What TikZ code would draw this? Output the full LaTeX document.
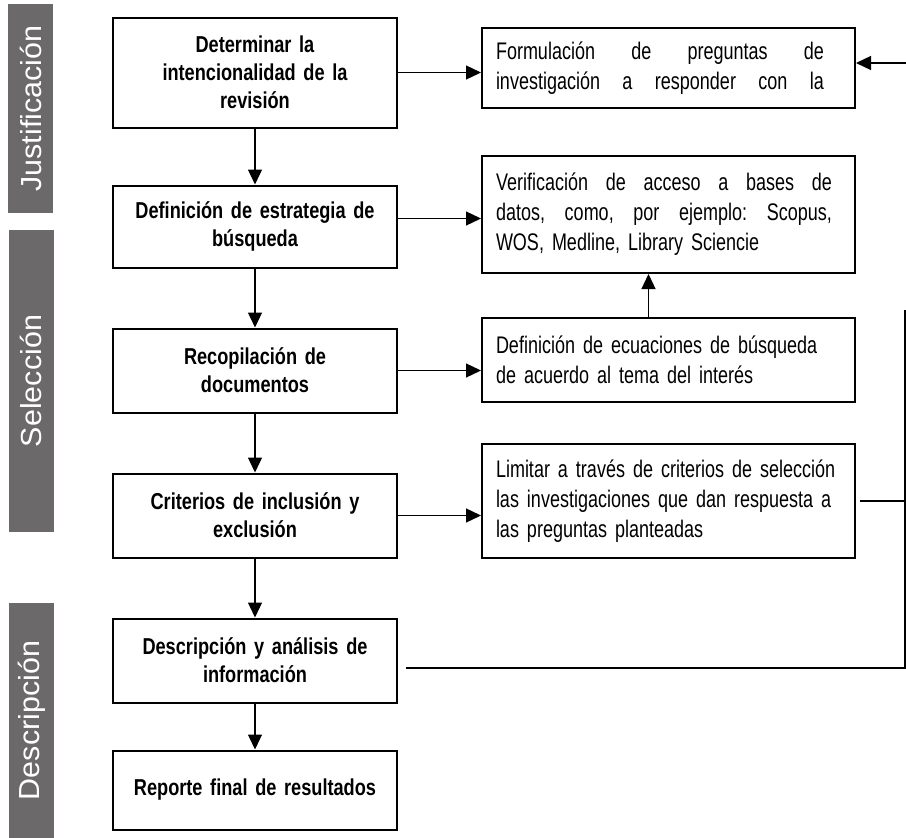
\documentclass[tikz,border=0pt]{standalone}
\usepackage{fontspec}
\setmainfont{Liberation Sans}
\newfontfamily\pasofont[FakeStretch=0.79]{Liberation Sans}
\newfontfamily\notafont[FakeStretch=0.75]{Liberation Sans}
\newfontfamily\fasefont[FakeStretch=1.05]{Liberation Sans}
\usetikzlibrary{arrows.meta}
\usetikzlibrary{positioning}

\begin{document}
\begin{tikzpicture}[x=1pt,y=-1pt,
  paso/.style={draw,line width=2pt,align=center,text width=276pt,minimum width=284pt,inner sep=0pt,font=\pasofont\bfseries\fontsize{23}{28}\selectfont},
  nota/.style={draw,line width=2pt,align=left,text width=345pt,minimum width=373pt,inner sep=0pt,font=\notafont\fontsize{24}{30}\selectfont},
  fase/.style={fill=fasecolor,text=white,rotate=90,minimum height=45pt,inner sep=0pt,font=\fasefont\fontsize{29}{30}\selectfont},
  flecha/.style={-{Triangle[width=14pt,length=15pt]},line width=1.3pt},
  linea/.style={line width=1.3pt}]

		    \definecolor{fasecolor}{RGB}{107,105,105}
		    \useasboundingbox[fill=white] (0,0) rectangle (906,838);

		    % fases
		    \node (fase1) [fase,minimum width=209pt] at (30.5,108.5) {Justificación};
		    \node (fase2) [fase,minimum width=302pt] at (31,381) {Selección};
		    \node (fase3) [fase,minimum width=235pt] at (31.5,720.5) {Descripción};

		    % pasos
		    \node (paso1) [paso,minimum height=110pt] at (255,72.5) {Determinar la\\intencionalidad de la\\revisión};
		    \node (paso2) [paso,minimum height=82pt,below=56pt of paso1] {Definición de estrategia de\\búsqueda};
		    \node (paso3) [paso,minimum height=84pt,below=59pt of paso2] {Recopilación de\\documentos};
		    \node (paso4) [paso,minimum height=84pt,below=59pt of paso3] {Criterios de inclusión y\\exclusión};
		    \node (paso5) [paso,minimum height=84pt,below=59pt of paso4] {Descripción y análisis de\\información};
		    \node (paso6) [paso,minimum height=79pt,below=46pt of paso5] {Reporte final de resultados\\[6pt]};

		    % notas
		    \node (nota1) [nota,minimum height=80pt] at (668.5,68) {\makebox[328pt][l]{Formulación\hfill de\hfill preguntas\hfill de}\\\makebox[328pt][l]{investigación\hfill a\hfill responder\hfill con\hfill la}};
		    \node (nota2) [nota,minimum height=117pt,below=46pt of nota1] {\makebox[336pt][l]{Verificación\hfill de\hfill acceso\hfill a\hfill bases\hfill de}\\\makebox[336pt][l]{datos,\hfill como,\hfill por\hfill ejemplo:\hfill Scopus,}\\WOS, Medline, Library Sciencie};
		    \node (nota3) [nota,minimum height=84pt,below=43pt of nota2] {Definición de ecuaciones de búsqueda\\de acuerdo al tema del interés};
		    \node (nota4) [nota,minimum height=114pt,below=40pt of nota3] {Limitar a través de criterios de selección\\las investigaciones que dan respuesta a\\las preguntas planteadas};

		    \foreach \a/\b in {paso1/paso2,paso2/paso3,paso3/paso4,paso4/paso5,paso5/paso6}
		      \draw[flecha] (\a) -- (\b);

		    \draw[flecha] (paso1.east) -- (paso1.east -| nota1.west);
		    \draw[flecha] ([yshift=8pt]paso2.east) -- ([yshift=8pt]paso2.east -| nota2.west);
		    \draw[flecha] (paso3.east) -- (paso3.east -| nota3.west);
		    \draw[flecha] (paso4.east) -- (paso4.east -| nota4.west);
		    \draw[flecha] ([xshift=-20pt]nota3.north) -- ([xshift=-20pt]nota2.south);

		    % retorno
		    \coordinate (retorno1) at (905,310);
		    \coordinate (retorno2) at (905,668);
		    \coordinate (retorno3) at (906,63);
		    \draw[linea] ([xshift=4pt]nota4.east) -- (nota4.east -| retorno1);
		    \draw[linea] (retorno1) -- (retorno2) -- ([xshift=8pt]paso5.east |- retorno2);
		    \draw[flecha] (retorno3) -- (retorno3 -| nota1.east);

\end{tikzpicture}
\end{document}
